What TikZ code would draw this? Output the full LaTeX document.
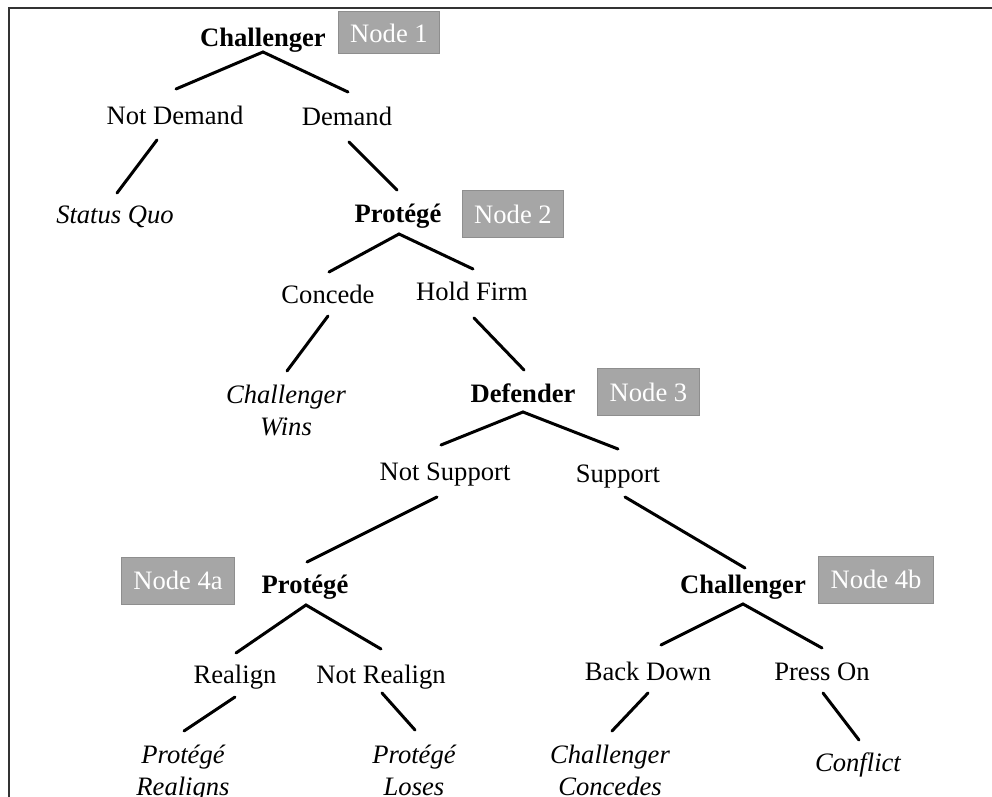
\documentclass[tikz,border=0pt]{standalone}
\usepackage{fontspec}
\setmainfont{Liberation Serif}
\definecolor{boxfill}{HTML}{A6A6A6}
\definecolor{boxline}{HTML}{8E8E8E}
\definecolor{framecol}{HTML}{333333}
\tikzset{
  txt/.style={font=\fontsize{13.3}{16}\selectfont, inner sep=0pt, anchor=base},
  player/.style={txt, font=\fontsize{13.3}{16}\selectfont\bfseries},
  outcome/.style={txt, font=\fontsize{13.3}{16}\selectfont\itshape},
  tag/.style={fill=boxfill, draw=boxline, line width=0.5pt, text=white,
    font=\fontsize{13.3}{16}\selectfont, inner xsep=6pt, inner ysep=0pt,
    minimum height=23.5pt, anchor=center},
  branch/.style={line width=1.5pt, line cap=round}
}
\begin{document}
\begin{tikzpicture}[x=0.5pt,y=-0.5pt]
\useasboundingbox (0,0) rectangle (992,797);
\draw[line width=1pt, framecol] (9,800) -- (9,8.5) -- (995,8.5);

% nodes
\node[player] (c1) at (263,47) {Challenger};
\node[tag, minimum height=21pt] (n1) at (389,33) {Node 1};
\node[txt] (nd) at (175,125) {Not Demand};
\node[txt] (dm) at (347,126) {Demand};
\node[outcome] (sq) at (115,224) {Status Quo};
\node[player] (p2) at (398,223) {Protégé};
\node[tag] (n2) at (513,214.5) {Node 2};
\node[txt] (cc) at (328,303) {Concede};
\node[txt] (hf) at (472,300) {Hold Firm};
\node[outcome] (cw) at (286,403) {\begin{tabular}[t]{@{}c@{}}Challenger\\Wins\end{tabular}};
\node[player] (df) at (523,402) {Defender};
\node[tag] (n3) at (648.5,392) {Node 3};
\node[txt] (ns) at (445,480) {Not Support};
\node[txt] (sp) at (618,482) {Support};
\node[player] (p4) at (305,593) {Protégé};
\node[tag] (n4a) at (178,580.5) {Node 4a};
\node[player] (c4) at (743,593) {Challenger};
\node[tag] (n4b) at (876,579.5) {Node 4b};
\node[txt] (ra) at (235,683) {Realign};
\node[txt] (nr) at (381,683) {Not Realign};
\node[txt] (bd) at (648,680) {Back Down};
\node[txt] (po) at (822,680) {Press On};
\node[outcome] (pr) at (183,763) {\begin{tabular}[t]{@{}c@{}}Protégé\\Realigns\end{tabular}};
\node[outcome] (pl) at (414,763) {\begin{tabular}[t]{@{}c@{}}Protégé\\Loses\end{tabular}};
\node[outcome] (cco) at (610,763) {\begin{tabular}[t]{@{}c@{}}Challenger\\Concedes\end{tabular}};
\node[outcome] (cf) at (858,771) {Conflict};

% branches
\draw[branch] ([shift={(1,-36)}]nd.base) -- ([shift={(0,5)}]c1.base) -- ([shift={(1,-34)}]dm.base);
\draw[branch] ([shift={(-18,15)}]nd.base) -- ([shift={(2,-31)}]sq.base);
\draw[branch] ([shift={(2,16)}]dm.base) -- ([shift={(-1,-33)}]p2.base);
\draw[branch] ([shift={(1,-31)}]cc.base) -- ([shift={(1,11)}]p2.base) -- ([shift={(1,-31)}]hf.base);
\draw[branch] ([shift={(0,13)}]cc.base) -- ([shift={(1,-32)}]cw.base);
\draw[branch] ([shift={(2,18)}]hf.base) -- ([shift={(1,-32)}]df.base);
\draw[branch] ([shift={(-4,-35)}]ns.base) -- ([shift={(0,10)}]df.base) -- ([shift={(0,-33)}]sp.base);
\draw[branch] ([shift={(-8,17)}]ns.base) -- ([shift={(2,-31)}]p4.base);
\draw[branch] ([shift={(7,15)}]sp.base) -- ([shift={(2,-25)}]c4.base);
\draw[branch] ([shift={(1,-30)}]ra.base) -- ([shift={(1,12)}]p4.base) -- ([shift={(0,-34)}]nr.base);
\draw[branch] ([shift={(13,-35)}]bd.base) -- ([shift={(0,11)}]c4.base) -- ([shift={(0,-32)}]po.base);
\draw[branch] ([shift={(0,14)}]ra.base) -- ([shift={(1,-32)}]pr.base);
\draw[branch] ([shift={(1,10)}]nr.base) -- ([shift={(1,-33)}]pl.base);
\draw[branch] ([shift={(0,13)}]bd.base) -- ([shift={(2,-32)}]cco.base);
\draw[branch] ([shift={(1,13)}]po.base) -- ([shift={(1,-31)}]cf.base);
\end{tikzpicture}
\end{document}
